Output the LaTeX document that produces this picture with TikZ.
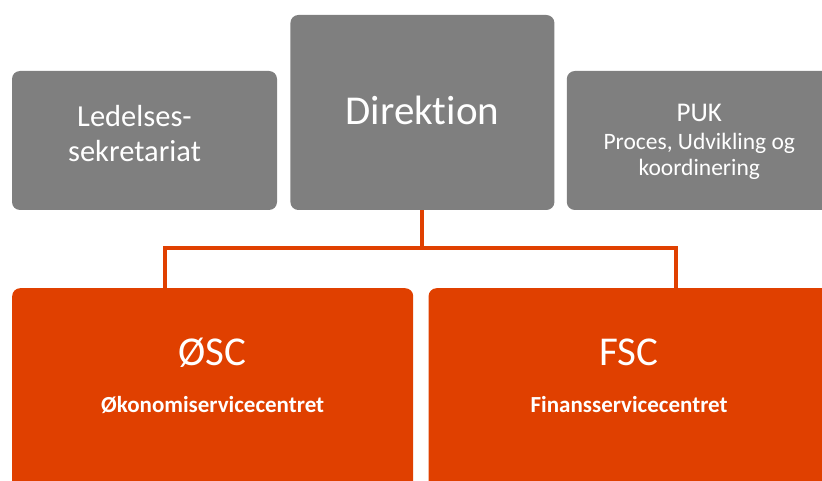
\documentclass[tikz,border=0pt]{standalone}
\usepackage{fontspec}
\setmainfont{Carlito}[Ligatures=NoCommon]
\usetikzlibrary{positioning}
\definecolor{boxgray}{HTML}{7F7F7F}
\definecolor{dsorange}{HTML}{E04000}
\tikzset{graybox/.style={fill=boxgray,rounded corners=8pt,align=center,text=white,inner sep=0pt},orgbox/.style={fill=dsorange,rounded corners=8pt,align=center,text=white,inner sep=0pt,minimum width=401pt,text height=124pt,text depth=260pt,font=\bfseries\fontsize{23}{47}\selectfont},link/.style={draw=dsorange,line width=4pt}}

\begin{document}
\begin{tikzpicture}[x=1pt,y=-1pt]
\useasboundingbox (0,0) rectangle (822,481);
\node[graybox,minimum width=265pt,minimum height=139pt,text height=54pt,text depth=11pt,font=\fontsize{30.5}{35}\selectfont] (led) at (144.5,140.5) {Ledelses-\hspace*{20pt}\\sekretariat\hspace*{20pt}};
\node[graybox,minimum width=264pt,minimum height=195pt,anchor=south west,text height=25pt,text depth=0pt,font=\fontsize{41}{48}\selectfont] (dir) at ([xshift=13pt]led.south east) {Direktion};
\node[graybox,minimum width=265pt,minimum height=139pt,anchor=south west,text height=70pt,text depth=-3pt,font=\fontsize{23.5}{26}\selectfont] (puk) at ([xshift=12pt]dir.south east) {{\fontsize{27}{27}\selectfont PUK}\\[2pt]Proces, Udvikling og\\koordinering};
\node[orgbox,anchor=north west] (osc) at (12,288) {{\mdseries\fontsize{41}{47}\selectfont ØSC}\\Økonomiservicecentret};
\node[orgbox,anchor=north west] (fsc) at ([xshift=15pt]osc.north east) {{\mdseries\fontsize{41}{47}\selectfont FSC}\\Finansservicecentret};
\coordinate (oscin) at ([xshift=153pt]osc.north west);
\coordinate (fscin) at ([xshift=248pt]fsc.north west);
\draw[link] (dir.south) -- ++(0,38) coordinate (fork);
\draw[link] (oscin) |- (fork) -| (fscin);
\end{tikzpicture}
\end{document}
